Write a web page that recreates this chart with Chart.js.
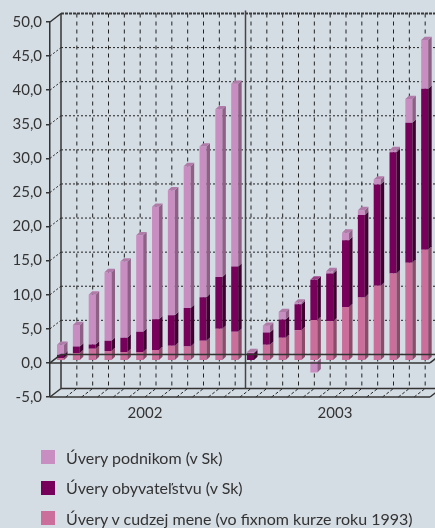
<!DOCTYPE html>
<html>
<head>
<meta charset="utf-8">
<script src="https://cdn.jsdelivr.net/npm/chart.js@4/dist/chart.umd.min.js"></script>
<style>
  html, body { margin: 0; padding: 0; background: #d5dde4; }
  #wrap { position: relative; width: 435px; height: 528px; }
  #wrap canvas { position: absolute; left: 0; top: 0; }
  .leg { position: absolute; left: 41px; height: 18px; display: flex; align-items: center;
         font-family: Lato, "Open Sans", sans-serif; font-size: 16px; color: #333; white-space: nowrap; }
  .leg i { display: inline-block; width: 14px; height: 14px; margin-right: 11px; }
</style>
</head>
<body>
<div id="wrap">
  <canvas id="c" width="435" height="528"></canvas>
  <div id="legend"></div>
</div>
<script>
// ---- data ----
const years = ['2002', '2003'];
const categories = ['I','II','III','IV','V','VI','VII','VIII','IX','X','XI','XII',
                    'I','II','III','IV','V','VI','VII','VIII','IX','X','XI','XII'];
const seriesNames = ['Úvery podnikom (v Sk)', 'Úvery obyvateľstvu (v Sk)', 'Úvery v cudzej mene (vo fixnom kurze roku 1993)'];
const uveryPodnikom = [1.45, 3.15, 7.3, 10.05, 11.15, 14.15, 16.5, 18.3, 20.8, 22.1, 24.6, 26.8,
                       0.2, 1.0, 1.1, 0.25, -1.7, 0.35, 1.1, 0.7, 0.75, 0.3, 3.5, 7.15];
const uveryObyvatelstvu = [0.5, 0.95, 0.62, 1.5, 2.1, 2.95, 4.5, 4.5, 5.65, 6.4, 7.6, 9.56,
                           1.1, 1.8, 2.65, 3.8, 5.9, 7.0, 9.8, 12.1, 14.85, 17.8, 20.5, 23.6];
const uveryCudzejMene = [0.4, 1.15, 1.78, 1.45, 1.3, 1.3, 1.6, 2.2, 2.1, 2.94, 4.7, 4.26,
                         0.0, 2.35, 3.4, 4.5, 6.0, 5.8, 7.9, 9.3, 11.0, 12.8, 14.4, 16.3];
const yTicks = { min: -5, max: 50, step: 5 };

// ---- styles ----
const FONT = 'Lato, "Open Sans", sans-serif';
const TXT = '#333333';
const COL = {
  podnikom: { front: '#c98ec1', side: '#8e6086', top: '#b07aa9' },
  obyv:     { front: '#77005a', side: '#3e002f', top: '#9a3f86' },
  cudzej:   { front: '#cc6e9b', side: '#8a4c69', top: '#b66a8e' }
};
const WALL = { dx: 11, dy: -8.5 };   // depth of the 3D box
const BAR = { dx: 2.6, dy: -2.1 };   // depth position of the bars
const EXT = { dx: 3.5, dy: -3.3 };   // bar extrusion

// legend (HTML text)
const legendColors = [COL.podnikom.front, COL.obyv.front, COL.cudzej.front];
const legTops = [448, 478.5, 509];
const legEl = document.getElementById('legend');
seriesNames.forEach((n, i) => {
  const d = document.createElement('div');
  d.className = 'leg';
  d.style.top = legTops[i] + 'px';
  d.innerHTML = '<i style="background:' + legendColors[i] + '"></i><span></span>';
  d.querySelector('span').textContent = n;
  legEl.appendChild(d);
});

function line(ctx, x1, y1, x2, y2) { ctx.beginPath(); ctx.moveTo(x1, y1); ctx.lineTo(x2, y2); ctx.stroke(); }

const box3d = {
  id: 'box3d',
  beforeDatasetsDraw(chart) {
    const ctx = chart.ctx, a = chart.chartArea;
    const ys = chart.scales.y, xs = chart.scales.x;
    const n = categories.length;
    ctx.save();
    // back wall horizontal grid
    ctx.strokeStyle = '#222';
    ctx.lineWidth = 1;
    for (let v = yTicks.min + yTicks.step; v < yTicks.max; v += yTicks.step) {
      const yf = ys.getPixelForValue(v);
      ctx.setLineDash([2, 2]);
      line(ctx, a.left + WALL.dx, yf + WALL.dy, a.right + WALL.dx + 10, yf + WALL.dy);
      ctx.setLineDash([2, 2]);
      line(ctx, a.left, yf, a.left + WALL.dx, yf + WALL.dy);
    }
    // vertical grid on back wall + floor
    for (let k = 1; k < n; k++) {
      const xf = (xs.getPixelForValue(k - 1) + xs.getPixelForValue(k)) / 2;
      ctx.setLineDash([4, 4]);
      line(ctx, xf + WALL.dx, a.top + WALL.dy, xf + WALL.dx, a.bottom + WALL.dy);
      ctx.setLineDash([3, 2]);
      line(ctx, xf, a.bottom, xf + WALL.dx, a.bottom + WALL.dy);
    }
    ctx.setLineDash([]);
    // top edge
    ctx.strokeStyle = '#3a3a3a';
    ctx.lineWidth = 2;
    ctx.setLineDash([3, 1]);
    line(ctx, a.left + WALL.dx, a.top + WALL.dy, a.right + WALL.dx + 10, a.top + WALL.dy);
    ctx.setLineDash([]);
    ctx.lineWidth = 1.5;
    ctx.strokeStyle = '#333';
    line(ctx, a.left, a.top, a.left + WALL.dx, a.top + WALL.dy);
    line(ctx, a.left + WALL.dx, a.top + WALL.dy, a.left + WALL.dx, a.bottom + WALL.dy);
    // floor
    line(ctx, a.left, a.bottom, a.left + WALL.dx, a.bottom + WALL.dy);
    line(ctx, a.left + WALL.dx, a.bottom + WALL.dy, a.right + WALL.dx + 10, a.bottom + WALL.dy);
    line(ctx, a.left, a.bottom, a.right, a.bottom);
    line(ctx, a.right, a.bottom, a.right + WALL.dx, a.bottom + WALL.dy);
    // year divider
    const xm = (xs.getPixelForValue(11) + xs.getPixelForValue(12)) / 2 + WALL.dx / 2;
    ctx.strokeStyle = '#444';
    ctx.lineWidth = 1.5;
    line(ctx, xm, a.top + WALL.dy - 3, xm, a.bottom + WALL.dy);
    ctx.restore();
    // bars sit at a depth inside the box
    ctx.save();
    ctx.translate(BAR.dx, BAR.dy);
  },
  afterDatasetsDraw(chart) {
    const ctx = chart.ctx, a = chart.chartArea, ys = chart.scales.y;
    const cols = [COL.cudzej, COL.obyv, COL.podnikom];
    const n = categories.length;
    const topSeg = new Array(n).fill(null);
    chart.data.datasets.forEach((ds, di) => {
      const meta = chart.getDatasetMeta(di);
      meta.data.forEach((el, i) => {
        const p = el.getProps(['x', 'y', 'base', 'width'], true);
        const t = Math.min(p.y, p.base), b = Math.max(p.y, p.base);
        if (b - t < 0.01) return;
        const xr = p.x + p.width / 2;
        ctx.fillStyle = cols[di].side;
        ctx.beginPath();
        ctx.moveTo(xr, t); ctx.lineTo(xr + EXT.dx, t + EXT.dy);
        ctx.lineTo(xr + EXT.dx, b + EXT.dy); ctx.lineTo(xr, b);
        ctx.closePath(); ctx.fill();
        if (p.y < p.base && (!topSeg[i] || p.y < topSeg[i].y)) topSeg[i] = { y: p.y, x: p.x, w: p.width, c: cols[di] };
      });
    });
    topSeg.forEach(s => {
      if (!s) return;
      const xl = s.x - s.w / 2, xr = s.x + s.w / 2;
      ctx.fillStyle = s.c.top;
      ctx.beginPath();
      ctx.moveTo(xl, s.y); ctx.lineTo(xr, s.y);
      ctx.lineTo(xr + EXT.dx, s.y + EXT.dy); ctx.lineTo(xl + EXT.dx, s.y + EXT.dy);
      ctx.closePath(); ctx.fill();
    });
    ctx.restore();
    // zero plane edges
    const y0 = ys.getPixelForValue(0);
    ctx.save();
    ctx.strokeStyle = '#333';
    ctx.lineWidth = 1.5;
    line(ctx, a.left, y0, a.right, y0);
    line(ctx, a.right, y0, a.right + WALL.dx, y0 + WALL.dy);
    line(ctx, a.left + WALL.dx, y0 + WALL.dy, a.right + WALL.dx + 10, y0 + WALL.dy);
    line(ctx, a.left, y0, a.left + WALL.dx, y0 + WALL.dy);
    ctx.restore();
  }
};

const fmt = v => v.toFixed(1).replace('.', ',');

new Chart(document.getElementById('c'), {
  type: 'bar',
  data: {
    labels: categories,
    datasets: [
      { label: seriesNames[2], data: uveryCudzejMene, backgroundColor: COL.cudzej.front },
      { label: seriesNames[1], data: uveryObyvatelstvu, backgroundColor: COL.obyv.front },
      { label: seriesNames[0], data: uveryPodnikom, backgroundColor: COL.podnikom.front }
    ]
  },
  options: {
    responsive: false,
    animation: false,
    devicePixelRatio: 1,
    layout: { padding: { top: 22, right: 5, left: 0, bottom: 0 } },
    datasets: { bar: { barThickness: 7, borderWidth: 0, inflateAmount: 0 } },
    plugins: { legend: { display: false }, tooltip: { enabled: false } },
    scales: {
      x: { stacked: true, display: false },
      x2: {
        type: 'category', labels: years, position: 'bottom', offset: true,
        grid: { display: false, drawTicks: false }, border: { display: false },
        ticks: { font: { family: FONT, size: 15 }, color: TXT, padding: 7 },
        afterFit(s) { s.height = 131; }
      },
      y: {
        stacked: true, min: yTicks.min, max: yTicks.max,
        ticks: { stepSize: yTicks.step, callback: v => fmt(v), font: { family: FONT, size: 15 }, color: TXT, padding: 4 },
        grid: { drawOnChartArea: false, drawTicks: true, tickLength: 4, color: '#333', lineWidth: 1.5 },
        border: { color: '#333', width: 1.5 },
        afterFit(s) { s.width = 50; }
      }
    }
  },
  plugins: [box3d]
});
</script>
</body>
</html>
